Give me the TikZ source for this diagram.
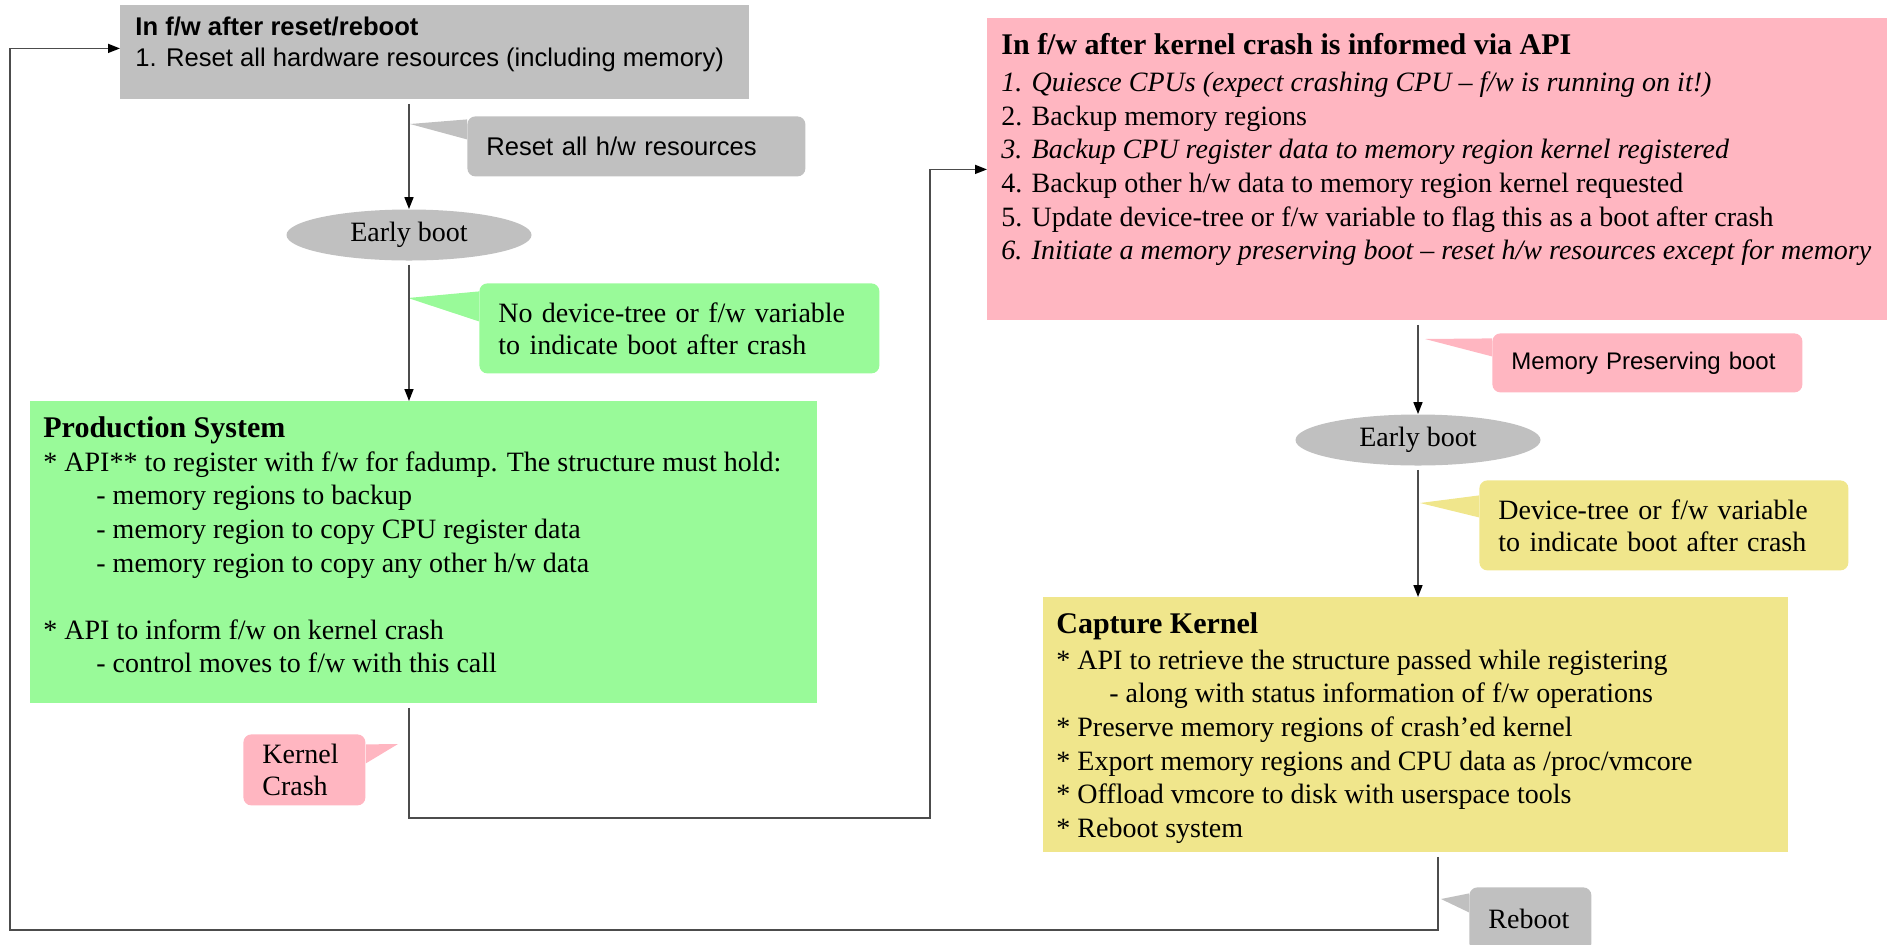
\documentclass[tikz,border=0pt]{standalone}
\usepackage{fontspec}
\setmainfont{Liberation Serif}
\setsansfont{Liberation Sans}
\usetikzlibrary{arrows.meta,positioning,shapes.geometric}

\definecolor{fwgray}{HTML}{C0C0C0}
\definecolor{fwpink}{HTML}{FFB6C1}
\definecolor{fwgreen}{HTML}{99FA99}
\definecolor{fwyellow}{HTML}{F0E68C}

\tikzset{
  panel/.style={rectangle, fill=#1, anchor=north west, inner sep=0pt},
  body/.style={anchor=north west, inner sep=0pt, align=left, font=\fontsize{14}{16.8}\selectfont},
  note/.style={rectangle, rounded corners=4pt, fill=#1, anchor=north west, inner xsep=9.5pt, inner ysep=0pt, align=left, font=\fontsize{14}{16}\selectfont},
  oval/.style={ellipse, fill=fwgray, minimum width=122.5pt, minimum height=25.5pt, inner sep=0pt, font=\fontsize{14}{16}\selectfont},
  link/.style={draw=black!70, line width=0.8pt},
  flow/.style={link, shorten <=2pt, -{Triangle[length=6pt,width=4.5pt,color=black]}},
}
\newcommand{\ind}{\hspace*{26.5pt}}

\begin{document}
\begin{tikzpicture}[x=0.5pt, y=-0.5pt]
  \useasboundingbox (0,0) rectangle (1887,944);

  \node[panel=fwgray, minimum width=314.5pt, minimum height=47pt] (RST) at (120,5) {};
  \node[body, font=\sffamily\fontsize{12.8}{15.5}\selectfont, below right=6pt and 7.5pt of RST.north west] (RSTT)
    {\textbf{In f/w after reset/reboot}\\1. Reset all hardware resources (including memory)};

  \node[oval] (EB) at (409,235) {Early boot};

  \node[panel=fwgreen, minimum width=393.5pt, minimum height=151pt] (PS) at (30,401) {};
  \node[body, below right=7.75pt and 6.5pt of PS.north west] (PST)
    {\textbf{\fontsize{15}{18}\selectfont Production System}\\
     * API** to register with f/w for fadump. The structure must hold:\\
     \ind- memory regions to backup\\
     \ind- memory region to copy CPU register data\\
     \ind- memory region to copy any other h/w data\\[16.8pt]
     * API to inform f/w on kernel crash\\
     \ind- control moves to f/w with this call};

  \node[panel=fwpink, minimum width=450pt, minimum height=151pt] (FWC) at (987,18) {};
  \node[body, below right=7.25pt and 7pt of FWC.north west] (FWCT)
    {\textbf{\fontsize{15}{18}\selectfont In f/w after kernel crash is informed via API}\\[2pt]
     \textit{1. Quiesce CPUs (expect crashing CPU – f/w is running on it!)}\\
     2. Backup memory regions\\
     \textit{3. Backup CPU register data to memory region kernel registered}\\
     4. Backup other h/w data to memory region kernel requested\\
     5. Update device-tree or f/w variable to flag this as a boot after crash\\
     \textit{6. Initiate a memory preserving boot – reset h/w resources except for memory}};

  \node[oval] (EB2) at (1418,440) {Early boot};

  \node[panel=fwyellow, minimum width=372.5pt, minimum height=127.5pt] (CK) at (1043,597) {};
  \node[body, below right=7.75pt and 6.5pt of CK.north west] (CKT)
    {\textbf{\fontsize{15}{18}\selectfont Capture Kernel}\\[1pt]
     * API to retrieve the structure passed while registering\\
     \ind- along with status information of f/w operations\\
     * Preserve memory regions of crash’ed kernel\\
     * Export memory regions and CPU data as /proc/vmcore\\
     * Offload vmcore to disk with userspace tools\\
     * Reboot system};

  \node[note=fwgray, font=\sffamily\fontsize{12.8}{15.5}\selectfont, text width=150pt, minimum height=30pt] (N1) at (467,116) {Reset all h/w resources};
  \node[note=fwgreen, text width=181pt, minimum height=45pt] (N2) at (479,283) {No device-tree or f/w variable\\to indicate boot after crash};
  \node[note=fwpink, text width=42pt, minimum height=35.5pt] (N3) at (243,734) {Kernel\\Crash};
  \node[note=fwpink, font=\sffamily\fontsize{12}{15}\selectfont, text width=136pt, minimum height=29.5pt] (N4) at (1492,333) {Memory Preserving boot};
  \node[note=fwyellow, text width=165.5pt, minimum height=45pt] (N5) at (1479,480) {Device-tree or f/w variable\\to indicate boot after crash};
  \node[note=fwgray, text width=42pt, minimum height=32pt] (N6) at (1469,887) {Reboot};

  \coordinate (P1) at (410,124);
  \coordinate (P2) at (408,298);
  \coordinate (P3) at (398,744);
  \coordinate (P4) at (1425,339);
  \coordinate (P5) at (1420,503);
  \coordinate (P6) at (1441,899);
  \fill[fwgray] (P1) -- ([yshift=13.5pt]N1.west) -- ([yshift=3.5pt]N1.west) -- cycle;
  \fill[fwgreen] (P2) -- ([yshift=18.5pt]N2.west) -- ([yshift=3.5pt]N2.west) -- cycle;
  \fill[fwpink] (P3) -- ([yshift=12.75pt]N3.east) -- ([yshift=3.25pt]N3.east) -- cycle;
  \fill[fwpink] (P4) -- ([yshift=12.25pt]N4.west) -- ([yshift=3.25pt]N4.west) -- cycle;
  \fill[fwyellow] (P5) -- ([yshift=15pt]N5.west) -- ([yshift=4pt]N5.west) -- cycle;
  \fill[fwgray] (P6) -- ([yshift=13pt]N6.west) -- ([yshift=3.5pt]N6.west) -- cycle;

  \coordinate (KC) at (930,818);
  \coordinate (RB) at (10,930);
  \draw[flow] (EB.north |- RST.south) -- (EB.north);
  \draw[flow] (EB.south) -- (EB.south |- PS.north);
  \draw[flow] (EB.south |- PS.south) |- (KC) |- (FWC.west);
  \draw[flow] (EB2.north |- FWC.south) -- (EB2.north);
  \draw[flow] (EB2.south) -- (EB2.south |- CK.north);
  \draw[flow] ([xshift=11pt]CK.south) |- (RB) |- ([yshift=2pt]RST.west);
\end{tikzpicture}
\end{document}
